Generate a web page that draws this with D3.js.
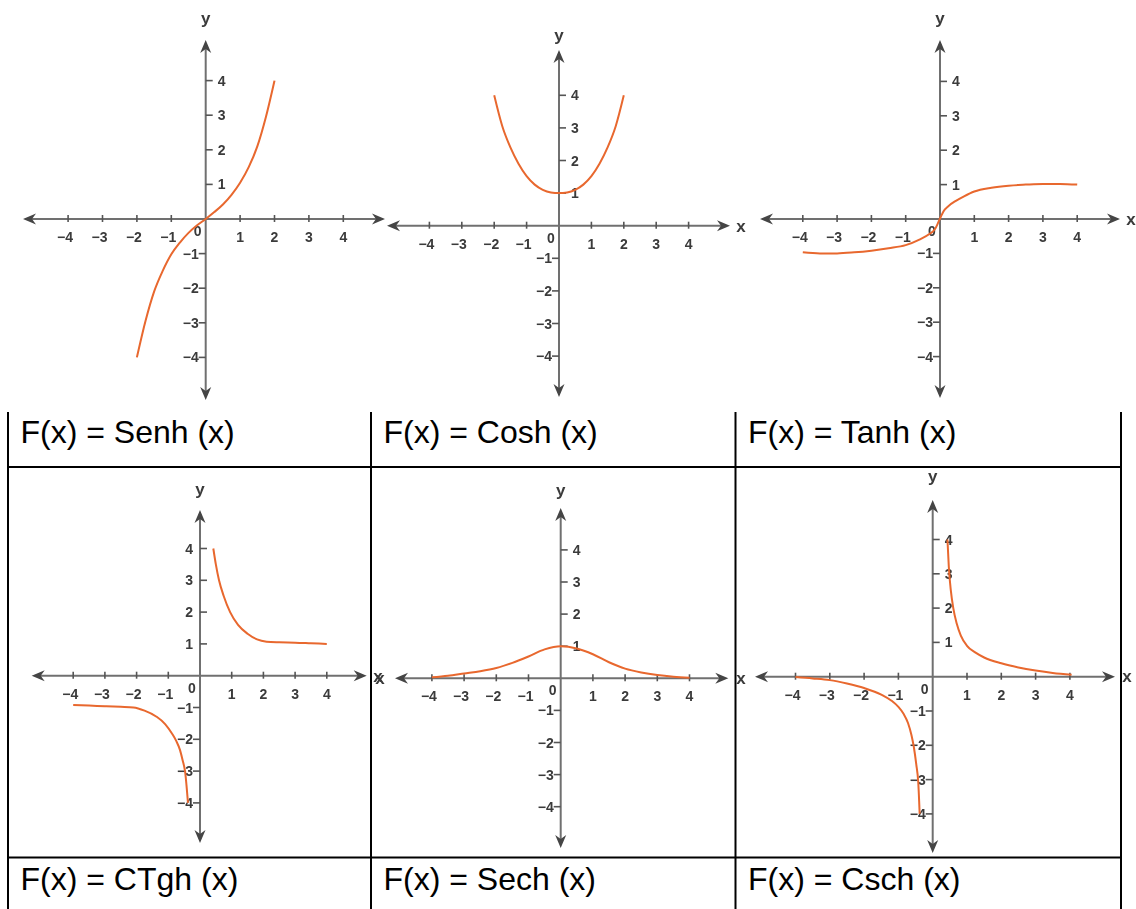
<!DOCTYPE html>
<html>
<head>
<meta charset="utf-8">
<script src="https://cdn.jsdelivr.net/npm/d3@7"></script>
<style>
  html, body { margin: 0; padding: 0; background: #fff; }
  svg { display: block; }
</style>
</head>
<body>
<svg id="chart" width="1136" height="909"></svg>
<script>
// Sampled points of each hyperbolic curve (x values, y values)
const senhX = [-2, -1.75, -1.5, -1.25, -1, -0.75, -0.5, -0.25, 0, 0.25, 0.5, 0.75, 1, 1.25, 1.5, 1.75, 2];
const senhY = [-4, -2.95, -2.1, -1.5, -1.02, -0.68, -0.4, -0.18, 0, 0.2, 0.42, 0.7, 1.05, 1.5, 2.1, 2.95, 4];

const coshX = [-2, -1.75, -1.5, -1.25, -1, -0.75, -0.5, -0.25, 0, 0.25, 0.5, 0.75, 1, 1.25, 1.5, 1.75, 2];
const coshY = [4, 3.05, 2.4, 1.9, 1.52, 1.26, 1.1, 1.02, 1, 1.02, 1.1, 1.26, 1.52, 1.9, 2.4, 3.05, 4];

const tanhX = [-4, -3.5, -3, -2.5, -2, -1.5, -1, -0.6, -0.3, -0.15, -0.05, 0.03, 0.1, 0.25, 0.45, 0.7, 1, 1.5, 2, 2.5, 3, 3.5, 4];
const tanhY = [-0.97, -1.0, -1.0, -0.97, -0.92, -0.85, -0.76, -0.6, -0.43, -0.3, -0.1, 0.08, 0.22, 0.38, 0.52, 0.66, 0.8, 0.91, 0.97, 1.0, 1.02, 1.02, 1.0];

const ctghRightX = [0.42, 0.5, 0.6, 0.75, 0.95, 1.2, 1.5, 1.8, 2.1, 2.5, 3, 3.5, 4];
const ctghRightY = [4, 3.5, 3.0, 2.5, 2.0, 1.6, 1.32, 1.14, 1.07, 1.05, 1.04, 1.02, 1.0];
const ctghLeftX = [-4, -3.5, -3, -2.5, -2.1, -1.75, -1.37, -1.1, -0.89, -0.75, -0.63, -0.55, -0.47, -0.38];
const ctghLeftY = [-0.92, -0.94, -0.96, -0.98, -1.0, -1.1, -1.29, -1.52, -1.81, -2.05, -2.34, -2.65, -3.02, -4.0];

const sechX = [-4, -3.5, -3, -2.5, -2, -1.5, -1, -0.5, 0, 0.5, 1, 1.5, 2, 2.5, 3, 3.5, 4];
const sechY = [0.03, 0.08, 0.15, 0.22, 0.32, 0.48, 0.68, 0.9, 1.0, 0.93, 0.75, 0.5, 0.3, 0.18, 0.1, 0.05, 0.02];

const cschRightX = [0.43, 0.47, 0.53, 0.6, 0.7, 0.82, 1, 1.25, 1.5, 2, 2.5, 3, 3.5, 4.05];
const cschRightY = [4, 3.2, 2.5, 2.0, 1.55, 1.2, 0.9, 0.7, 0.56, 0.39, 0.27, 0.18, 0.11, 0.06];
const cschLeftX = [-4, -3.5, -3, -2.5, -2, -1.5, -1.2, -1, -0.85, -0.72, -0.62, -0.55, -0.48, -0.42, -0.38];
const cschLeftY = [-0.01, -0.05, -0.1, -0.2, -0.33, -0.52, -0.7, -0.88, -1.08, -1.35, -1.7, -2.05, -2.55, -3.1, -4.0];

// Tick values shared by every panel
const tickValues = [-4, -3, -2, -1, 1, 2, 3, 4];

// Caption of each cell
const captions = ["F(x) = Senh (x)", "F(x) = Cosh (x)", "F(x) = Tanh (x)",
                  "F(x) = CTgh (x)", "F(x) = Sech (x)", "F(x) = Csch (x)"];

// Panel layout: origin, unit sizes, axis extents and label placement
const panels = [
  { curves: [[senhX, senhY]], ox: 205.7, oy: 219, ux: 34.4, uy: 34.6,
    xl: 23, xr: 385, yt: 40, yb: 400, yLab: [205.7, 24], xLabs: [], posLeft: false },
  { curves: [[coshX, coshY]], ox: 559, oy: 225.7, ux: 32.4, uy: 32.6,
    xl: 387, xr: 730, yt: 50, yb: 397, yLab: [559, 41], xLabs: [[741, 226]], posLeft: false },
  { curves: [[tanhX, tanhY]], ox: 940, oy: 219, ux: 34.3, uy: 34.4,
    xl: 760, xr: 1120, yt: 40, yb: 398, yLab: [940, 24], xLabs: [[1131, 219]], posLeft: false },
  { curves: [[ctghRightX, ctghRightY], [ctghLeftX, ctghLeftY]], ox: 200, oy: 675.7, ux: 31.7, uy: 31.8,
    xl: 31.7, xr: 366.7, yt: 510, yb: 843, yLab: [200, 495], xLabs: [[378, 676]], posLeft: true },
  { curves: [[sechX, sechY]], ox: 560.7, oy: 678.3, ux: 32.2, uy: 32.1,
    xl: 395, xr: 728.3, yt: 508, yb: 848, yLab: [560.7, 496], xLabs: [[380, 678], [741, 678]], posLeft: false },
  { curves: [[cschRightX, cschRightY], [cschLeftX, cschLeftY]], ox: 932.7, oy: 676.7, ux: 34.3, uy: 34.3,
    xl: 755, xr: 1115, yt: 500, yb: 853, yLab: [932.7, 482], xLabs: [[1127, 676]], posLeft: false }
];

const svg = d3.select("#chart");

const defs = svg.append("defs");
defs.append("filter").attr("id", "soft")
  .append("feGaussianBlur").attr("stdDeviation", 0.45);

const axisColor = "#707070";
const labelColor = "#3a3a3a";
const curveColor = "#e8672e";
const tickFont = "Liberation Sans, Arial, sans-serif";
const fmt = v => v < 0 ? "\u2212" + Math.abs(v) : String(v);

// Concave arrowhead pointing along +x, tip at the origin
const arrowPath = "M0,0 L-13,-5.5 L-9,0 L-13,5.5 Z";

panels.forEach(p => {
  const x = d3.scaleLinear().domain([-4, 4]).range([p.ox - 4 * p.ux, p.ox + 4 * p.ux]);
  const y = d3.scaleLinear().domain([-4, 4]).range([p.oy + 4 * p.uy, p.oy - 4 * p.uy]);
  const g = svg.append("g").attr("filter", "url(#soft)");

  // axes
  g.append("line").attr("x1", p.xl + 4).attr("x2", p.xr - 4).attr("y1", y(0)).attr("y2", y(0))
    .attr("stroke", axisColor).attr("stroke-width", 2);
  g.append("line").attr("x1", x(0)).attr("x2", x(0)).attr("y1", p.yt + 4).attr("y2", p.yb - 4)
    .attr("stroke", axisColor).attr("stroke-width", 2);

  const arrows = [
    [p.xr, y(0), 0], [p.xl, y(0), 180], [x(0), p.yt, -90], [x(0), p.yb, 90]
  ];
  g.selectAll("path.arrow").data(arrows).join("path")
    .attr("class", "arrow")
    .attr("d", arrowPath)
    .attr("transform", d => `translate(${d[0]},${d[1]}) rotate(${d[2]})`)
    .attr("fill", "#444");

  // x ticks and labels
  g.selectAll("line.xt").data(tickValues).join("line")
    .attr("class", "xt")
    .attr("x1", d => x(d)).attr("x2", d => x(d))
    .attr("y1", y(0) - 4).attr("y2", y(0) + 3)
    .attr("stroke", "#555").attr("stroke-width", 1.6);
  g.selectAll("text.xl").data(tickValues).join("text")
    .attr("class", "xl")
    .attr("x", d => x(d) - (d < 0 ? 3 : 0)).attr("y", y(0) + 23)
    .attr("text-anchor", "middle")
    .attr("font-family", tickFont)
    .attr("font-weight", "bold").attr("font-size", 14)
    .attr("fill", labelColor)
    .text(fmt);

  // y ticks and labels
  g.selectAll("line.yt").data(tickValues).join("line")
    .attr("class", "yt")
    .attr("x1", d => (d > 0 ? x(0) : x(0) - 7)).attr("x2", d => (d > 0 ? x(0) + 7 : x(0)))
    .attr("y1", d => y(d)).attr("y2", d => y(d))
    .attr("stroke", "#555").attr("stroke-width", 1.6);
  g.selectAll("text.yl").data(tickValues).join("text")
    .attr("class", "yl")
    .attr("x", d => (d > 0 && !p.posLeft) ? x(0) + 12 : x(0) - 7)
    .attr("y", d => y(d) + 5)
    .attr("text-anchor", d => (d > 0 && !p.posLeft) ? "start" : "end")
    .attr("font-family", tickFont)
    .attr("font-weight", "bold").attr("font-size", 14)
    .attr("fill", labelColor)
    .text(fmt);

  // origin label
  g.append("text").attr("x", x(0) - 8).attr("y", y(0) + 17)
    .attr("text-anchor", "middle")
    .attr("font-family", tickFont)
    .attr("font-weight", "bold").attr("font-size", 14)
    .attr("fill", labelColor).text("0");

  // axis names
  g.append("text").attr("x", p.yLab[0]).attr("y", p.yLab[1])
    .attr("text-anchor", "middle")
    .attr("font-family", tickFont)
    .attr("font-weight", "bold").attr("font-size", 17)
    .attr("fill", labelColor).text("y");
  p.xLabs.forEach(l => {
    g.append("text").attr("x", l[0]).attr("y", l[1] + 6)
      .attr("text-anchor", "middle")
      .attr("font-family", tickFont)
      .attr("font-weight", "bold").attr("font-size", 17)
      .attr("fill", labelColor).text("x");
  });

  // function curves
  const line = d3.line()
    .x(d => x(d[0])).y(d => y(d[1]))
    .curve(d3.curveMonotoneX);
  p.curves.forEach(([xs, ys]) => {
    g.append("path")
      .datum(d3.zip(xs, ys))
      .attr("d", line)
      .attr("fill", "none")
      .attr("stroke", curveColor)
      .attr("stroke-width", 2);
  });
});

// Table grid with the caption cells
const colX = [8, 371, 735.5, 1121];
const grid = svg.append("g").attr("stroke", "#000").attr("stroke-width", 2);
colX.forEach(cx => {
  grid.append("line").attr("x1", cx).attr("x2", cx).attr("y1", 412).attr("y2", 909);
});
[467, 857.5].forEach(ry => {
  grid.append("line").attr("x1", colX[0] - 1).attr("x2", colX[3] + 1).attr("y1", ry).attr("y2", ry);
});

const captionBase = [443, 890];
svg.selectAll("text.caption").data(captions).join("text")
  .attr("class", "caption")
  .attr("x", (d, i) => colX[i % 3] + 12.5)
  .attr("y", (d, i) => captionBase[Math.floor(i / 3)])
  .attr("font-family", "Liberation Sans, Arial, sans-serif")
  .attr("font-size", 32)
  .attr("fill", "#000")
  .text(d => d);
</script>
</body>
</html>
